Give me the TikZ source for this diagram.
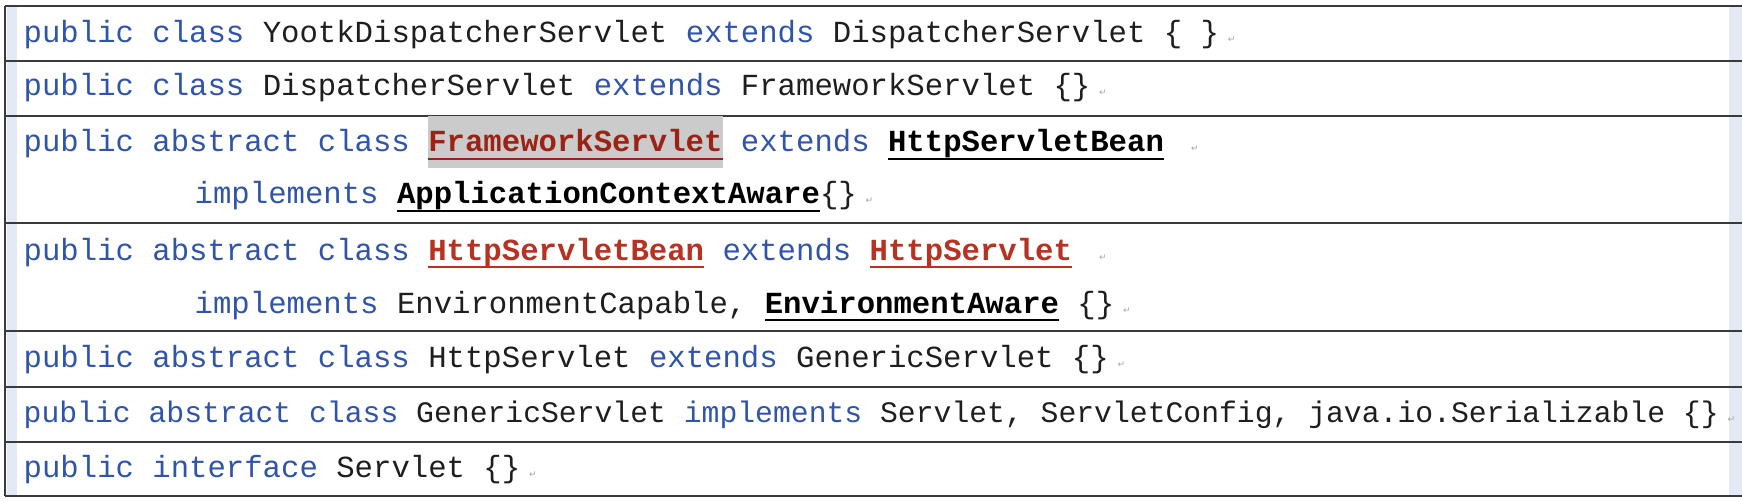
\documentclass[tikz,border=0pt]{standalone}
\usepackage{fontspec}
\setmonofont{Liberation Mono}
\newfontfamily\markfont{DejaVu Sans}

\definecolor{kwblue}{HTML}{2F54AA}
\definecolor{namegray}{HTML}{1E1E1E}
\definecolor{darkred}{HTML}{9B2316}
\definecolor{brightred}{HTML}{B83222}
\definecolor{hlgray}{HTML}{CBCBCB}
\definecolor{stripblue}{HTML}{E3EAF5}
\definecolor{rulegray}{HTML}{3A3A3A}

\newcommand{\codefont}{\ttfamily\fontsize{8.72pt}{10pt}\selectfont}
\newcommand{\codefontsmall}{\ttfamily\fontsize{8.46pt}{10pt}\selectfont}
\newcommand{\kw}[1]{\textcolor{kwblue}{#1}}
\newcommand{\ulname}[2][black]{{\color{#1}\setbox0\hbox{\bfseries #2}\rlap{\rule[-2.3pt]{\wd0}{0.7pt}}\box0}}
\newcommand{\hlname}[1]{{\setbox0\hbox{\bfseries #1}\rlap{\color{hlgray}\rule[-4.6pt]{\wd0}{14.8pt}}\color{darkred}\rlap{\rule[-2.3pt]{\wd0}{0.7pt}}\box0}}
\newcommand{\retmark}{\hspace{2.5pt}{\markfont\fontsize{2.6pt}{3pt}\selectfont\textcolor{black!35}{↵}}}

\begin{document}
\begin{tikzpicture}[x=0.1mm, y=-0.1mm,
	codeline/.style={anchor=base west, inner sep=0pt, text=namegray, font=\codefont},
	rowline/.style={draw=rulegray, line width=0.55pt}]
	\useasboundingbox (0,0) rectangle (1742,502);
	
	\fill[stripblue] (7,7) rectangle (17,495);
	\fill[stripblue] (1729,7) rectangle (1742,495);
	
	\draw[rowline] (5,6) -- (1742,6);
	\draw[rowline] (5,61) -- (1742,61);
	\draw[rowline] (5,116) -- (1742,116);
	\draw[rowline] (5,223) -- (1742,223);
	\draw[rowline] (5,331) -- (1742,331);
	\draw[rowline] (5,387) -- (1742,387);
	\draw[rowline] (5,442) -- (1742,442);
	\draw[rowline] (5,496) -- (1742,496);
	\draw[rowline] (5,6) -- (5,496);
	
	\node[codeline] (yootk) at (23,43) {\kw{public class} YootkDispatcherServlet \kw{extends} DispatcherServlet \{ \}\retmark};
	\node[codeline] (dispatcher) at (23,96) {\kw{public class} DispatcherServlet \kw{extends} FrameworkServlet \{\}\retmark};
	\node[codeline] (framework) at (23,152) {\kw{public abstract class} \hlname{FrameworkServlet} \kw{extends} \ulname{HttpServletBean} \retmark};
	\node[codeline] (frameworkimpl) at (194,204) {\kw{implements} \ulname{ApplicationContextAware}\{\}\retmark};
	\node[codeline] (bean) at (23,260) {\kw{public abstract class} \ulname[brightred]{HttpServletBean} \kw{extends} \ulname[brightred]{HttpServlet} \retmark};
	\node[codeline] (beanimpl) at (194,313) {\kw{implements} EnvironmentCapable, \ulname{EnvironmentAware} \{\}\retmark};
	\node[codeline] (http) at (23,367) {\kw{public abstract class} HttpServlet \kw{extends} GenericServlet \{\}\retmark};
	\node[codeline, font=\codefontsmall] (generic) at (23,422) {\kw{public abstract class} GenericServlet \kw{implements} Servlet, ServletConfig, java.io.Serializable \{\}\retmark};
	\node[codeline] (servlet) at (23,477) {\kw{public interface} Servlet \{\}\retmark};
\end{tikzpicture}
\end{document}
